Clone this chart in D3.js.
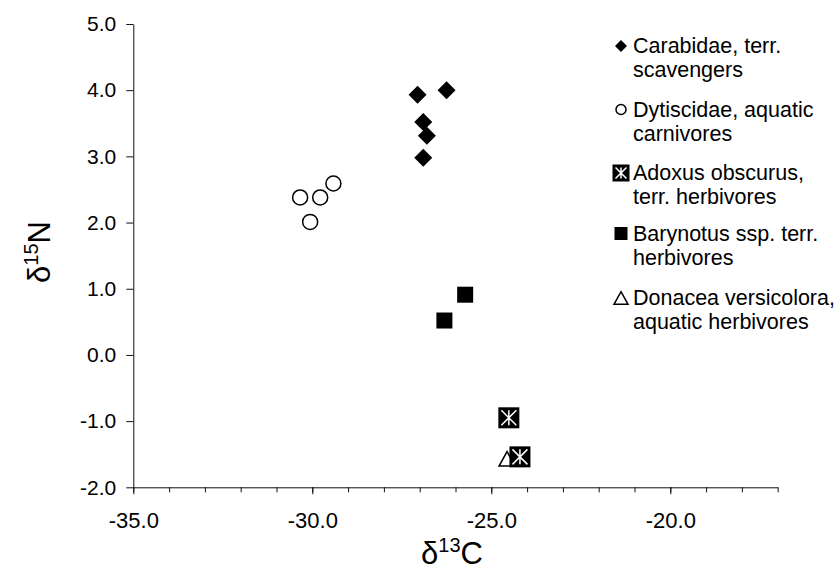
<!DOCTYPE html>
<html>
<head>
<meta charset="utf-8">
<script src="https://cdn.jsdelivr.net/npm/d3@7"></script>
<style>
  body { margin: 0; background: #fff; }
  text { font-family: "Liberation Sans", Arial, sans-serif; fill: #000; }
</style>
</head>
<body>
<div id="container"></div>
<script>
// values (d13C, d15N)
const carabidaeX  = [-27.06, -26.25, -26.9, -26.8, -26.9];
const carabidaeY  = [3.93, 4.0, 3.52, 3.31, 2.98];
const dytiscidaeX = [-30.34, -29.78, -29.41, -30.06];
const dytiscidaeY = [2.38, 2.38, 2.59, 2.01];
const barynotusX  = [-25.73, -26.31];
const barynotusY  = [0.91, 0.52];
const donaceaX    = [-24.56];
const donaceaY    = [-1.57];
const adoxusX     = [-24.51, -24.2];
const adoxusY     = [-0.95, -1.54];

const xMajor = [-35, -30, -25, -20];
const xMinor = d3.range(-35, -16, 1);
const yTicks = d3.range(-2, 6, 1);

const legendLabels = [
  ["Carabidae, terr.", "scavengers"],
  ["Dytiscidae, aquatic", "carnivores"],
  ["Adoxus obscurus,", "terr. herbivores"],
  ["Barynotus ssp. terr.", "herbivores"],
  ["Donacea versicolora,", "aquatic herbivores"]
];
const legendKinds = ["diamond", "circle", "adoxus", "square", "triangle"];

const width = 839, height = 573;

const x = d3.scaleLinear().domain([-35, -17]).range([133.3, 777.7]);
const y = d3.scaleLinear().domain([-2, 5]).range([487.3, 24]);

const svg = d3.create("svg")
    .attr("width", width)
    .attr("height", height);

// axes
const gx = svg.append("g").attr("transform", `translate(0,${y(-2)})`);
gx.call(d3.axisBottom(x).tickValues(xMinor).tickSize(5).tickSizeOuter(0).tickFormat(""));
gx.append("g").call(d3.axisBottom(x).tickValues(xMajor).tickSize(7).tickPadding(18)
    .tickFormat(d => d.toFixed(1)))
  .call(g => g.select(".domain").remove());
gx.selectAll("text").attr("font-size", 22).attr("font-family", null);

const gy = svg.append("g").attr("transform", `translate(${x(-35)},0)`);
gy.call(d3.axisLeft(y).tickValues(yTicks).tickSize(7).tickSizeOuter(0).tickPadding(10)
    .tickFormat(d => d.toFixed(1)));
gy.selectAll("text").attr("font-size", 21).attr("font-family", null);

svg.selectAll(".domain, .tick line").attr("stroke", "#111").attr("stroke-width", 1);

// marker drawers
function drawMarker(g, kind, s) {
  if (kind === "diamond") {
    g.append("path").attr("d", d3.symbol(d3.symbolSquare, s * s / 2)())
      .attr("transform", "rotate(45)").attr("fill", "#000");
  } else if (kind === "circle") {
    g.append("circle").attr("r", s / 2).attr("fill", "#fff")
      .attr("stroke", "#000").attr("stroke-width", 1.5);
  } else if (kind === "square") {
    g.append("rect").attr("x", -s / 2).attr("y", -s / 2).attr("width", s).attr("height", s)
      .attr("fill", "#000");
  } else if (kind === "triangle") {
    const h = s * 0.9;
    g.append("path").attr("d", `M0,${-h / 2}L${s / 2},${h / 2}L${-s / 2},${h / 2}Z`)
      .attr("fill", "#fff").attr("stroke", "#000").attr("stroke-width", 1.5);
  } else if (kind === "adoxus") {
    g.append("rect").attr("x", -s / 2).attr("y", -s / 2).attr("width", s).attr("height", s)
      .attr("fill", "#000");
    const a = s / 2 - 3;
    g.append("path").attr("d", `M${-a},${-a}L${a},${a}M${a},${-a}L${-a},${a}M0,${-a}L0,${a}`)
      .attr("stroke", "#fff").attr("stroke-width", 1.5).attr("fill", "none");
  }
}

const series = [
  { kind: "diamond",  xs: carabidaeX,  ys: carabidaeY,  size: 18 },
  { kind: "circle",   xs: dytiscidaeX, ys: dytiscidaeY, size: 15 },
  { kind: "square",   xs: barynotusX,  ys: barynotusY,  size: 16 },
  { kind: "triangle", xs: donaceaX,    ys: donaceaY,    size: 16 },
  { kind: "adoxus",   xs: adoxusX,     ys: adoxusY,     size: 21 }
];

series.forEach(sr => {
  sr.xs.forEach((v, i) => {
    const g = svg.append("g").attr("transform", `translate(${x(v)},${y(sr.ys[i])})`);
    drawMarker(g, sr.kind, sr.size);
  });
});

// axis titles
const xt = svg.append("text").attr("x", 452).attr("y", 564)
    .attr("text-anchor", "middle").attr("font-size", 31);
xt.append("tspan").text("δ");
xt.append("tspan").attr("font-size", 20).attr("dy", -12).text("13");
xt.append("tspan").attr("dy", 12).text("C");

const yt = svg.append("text").attr("transform", "translate(50,252) rotate(-90)")
    .attr("text-anchor", "middle").attr("font-size", 31);
yt.append("tspan").text("δ");
yt.append("tspan").attr("font-size", 20).attr("dy", -12).text("15");
yt.append("tspan").attr("dy", 12).text("N");

// legend
const legendY = [46, 109.5, 173, 233.5, 298];
const legendSize = { diamond: 12, circle: 10, adoxus: 17, square: 13, triangle: 14 };
legendKinds.forEach((k, i) => {
  const g = svg.append("g").attr("transform", `translate(621,${legendY[i]})`);
  drawMarker(g, k, legendSize[k]);
  const t = svg.append("text").attr("x", 633).attr("y", legendY[i] + 7).attr("font-size", 21.5);
  t.append("tspan").text(legendLabels[i][0]);
  t.append("tspan").attr("x", 633).attr("dy", 24).text(legendLabels[i][1]);
});

container.append(svg.node());
</script>
</body>
</html>
